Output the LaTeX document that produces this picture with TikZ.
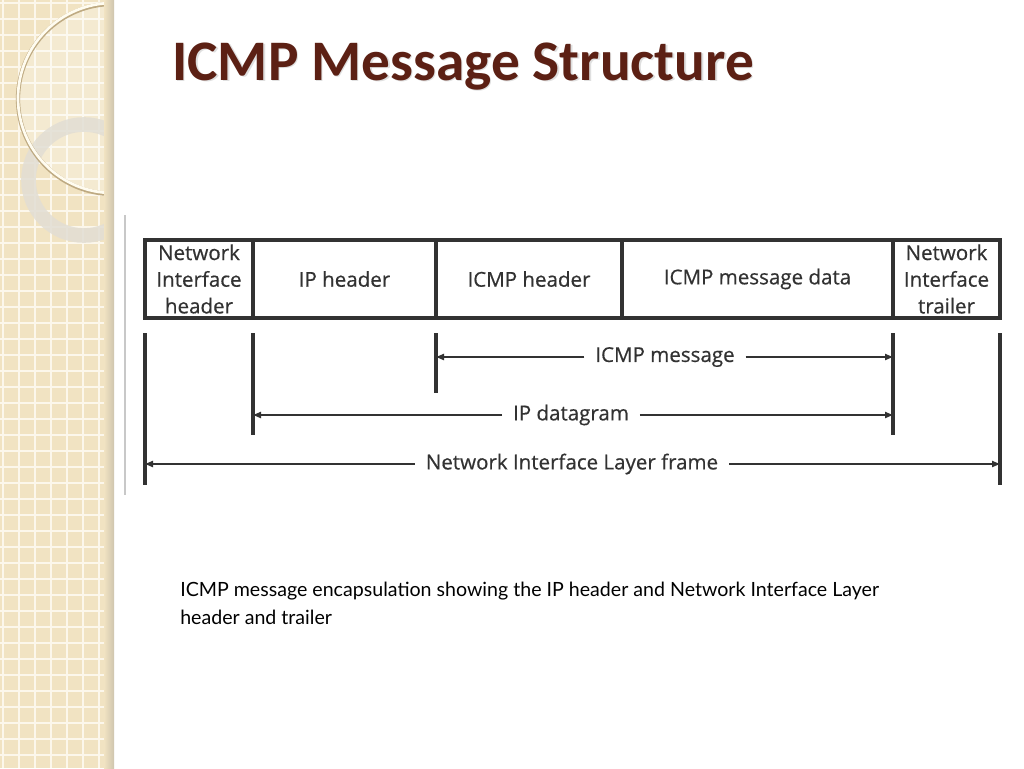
\documentclass[tikz,border=0pt]{standalone}
\usepackage{fontspec}
\setmainfont{Carlito}
\newfontfamily\figfont[FakeBold=0.5]{Open Sans}
\newfontfamily\capfont{Lato}
\usetikzlibrary{arrows.meta}
\definecolor{band}{RGB}{241,227,194}
\definecolor{bandline}{RGB}{252,247,235}
\definecolor{titlebrown}{RGB}{92,32,20}
\definecolor{ink}{RGB}{50,50,50}
\definecolor{ringgray}{RGB}{226,222,212}
\begin{document}
\begin{tikzpicture}[x=0.75pt,y=-0.75pt,
  field/.style={draw=ink, line width=2.6pt, minimum height=58.5pt, inner sep=0pt, outer sep=0pt,
    font=\figfont\fontsize{15.4}{20}\selectfont, text=ink, align=center},
  tickline/.style={draw=ink, line width=2.3pt},
  arr/.style={draw=ink, line width=1.9pt, -{Triangle[length=6pt,width=4.5pt]}},
  lbl/.style={font=\figfont\fontsize{15.4}{18}\selectfont, text=ink, inner xsep=8pt, inner ysep=0pt}]
\useasboundingbox (0,0) rectangle (1024,768);
\fill[white] (0,0) rectangle (1024,768);
% decorative band
\fill[band] (0,0) rectangle (113,768);
\foreach \i in {0,...,48} {
  \draw[bandline, line width=1pt] (0,{3+16*\i}) -- (113,{3+16*\i});
}
\foreach \x in {3,19,35,51,67,83,99} {
  \draw[bandline, line width=1pt] (\x,0) -- (\x,768);
}
\begin{scope}
  \clip (0,0) rectangle (113,768);
  \fill[white, opacity=0.25] (113,98) circle[radius=95];
  \draw[line width=11pt, ringgray, opacity=0.85] (84,180) circle[radius=55.5];
  \draw[line width=3.2pt, color={rgb,255:red,190;green,170;blue,130}] (113,99) circle[radius=95];
  \draw[line width=2pt, color={rgb,255:red,255;green,252;blue,240}] (113,98) circle[radius=95];
\end{scope}
\shade[left color=band, right color=band!70!gray] (104,0) rectangle (114,768);
% title
\node[anchor=base west, inner sep=0pt, text=gray, opacity=0.25,
  font=\fontsize{43}{46}\selectfont\bfseries] at (173.5,81.5) {ICMP Message Structure};
\node[anchor=base west, inner sep=0pt, text=titlebrown,
  font=\fontsize{43}{46}\selectfont\bfseries] (title) at (172,80) {ICMP Message Structure};
% frame of embedded figure
\draw[color={rgb,255:red,200;green,200;blue,200}, line width=0.8pt] (125,215) -- (125,495);
% fields
\node[field, minimum width=81pt] (nh) at (199,279) {Network\\Interface\\header};
\node[field, minimum width=137.25pt] (iph) at (344.5,279) {IP header};
\node[field, minimum width=139.5pt] (icmph) at (529,279) {ICMP header};
\node[field, minimum width=203.25pt] (data) at (757.5,279) {ICMP message data};
\node[field, minimum width=80.25pt] (tr) at (946.5,279) {Network\\Interface\\trailer};
% tick lines
\coordinate (t1a) at (145,333); \coordinate (t1b) at (145,485);
\coordinate (t2a) at (253,333); \coordinate (t2b) at (253,435);
\coordinate (t3a) at (436,333); \coordinate (t3b) at (436,393);
\coordinate (t4a) at (893,333); \coordinate (t4b) at (893,435);
\coordinate (t5a) at (1000,333); \coordinate (t5b) at (1000,485);
\foreach \t in {1,...,5} { \draw[tickline] (t\t a) -- (t\t b); }
% span arrows
\node[lbl] (msg) at (665,357) {ICMP message};
\node[lbl] (dgm) at (571,415) {IP datagram};
\node[lbl] (frm) at (572,464) {Network Interface Layer frame};
\draw[arr] (msg.west) -- (msg -| t3a);
\draw[arr] (msg.east) -- (msg -| t4a);
\draw[arr] (dgm.west) -- (dgm -| t2a);
\draw[arr] (dgm.east) -- (dgm -| t4a);
\draw[arr] (frm.west) -- (frm -| t1a);
\draw[arr] (frm.east) -- (frm -| t5a);
% caption
\node[anchor=base west, inner sep=0pt, align=left, font=\capfont\fontsize{14.7}{21}\selectfont] (cap) at (180,624)
  {ICMP message encapsulation showing the IP header and Network Interface Layer\\header and trailer};
\end{tikzpicture}
\end{document}
